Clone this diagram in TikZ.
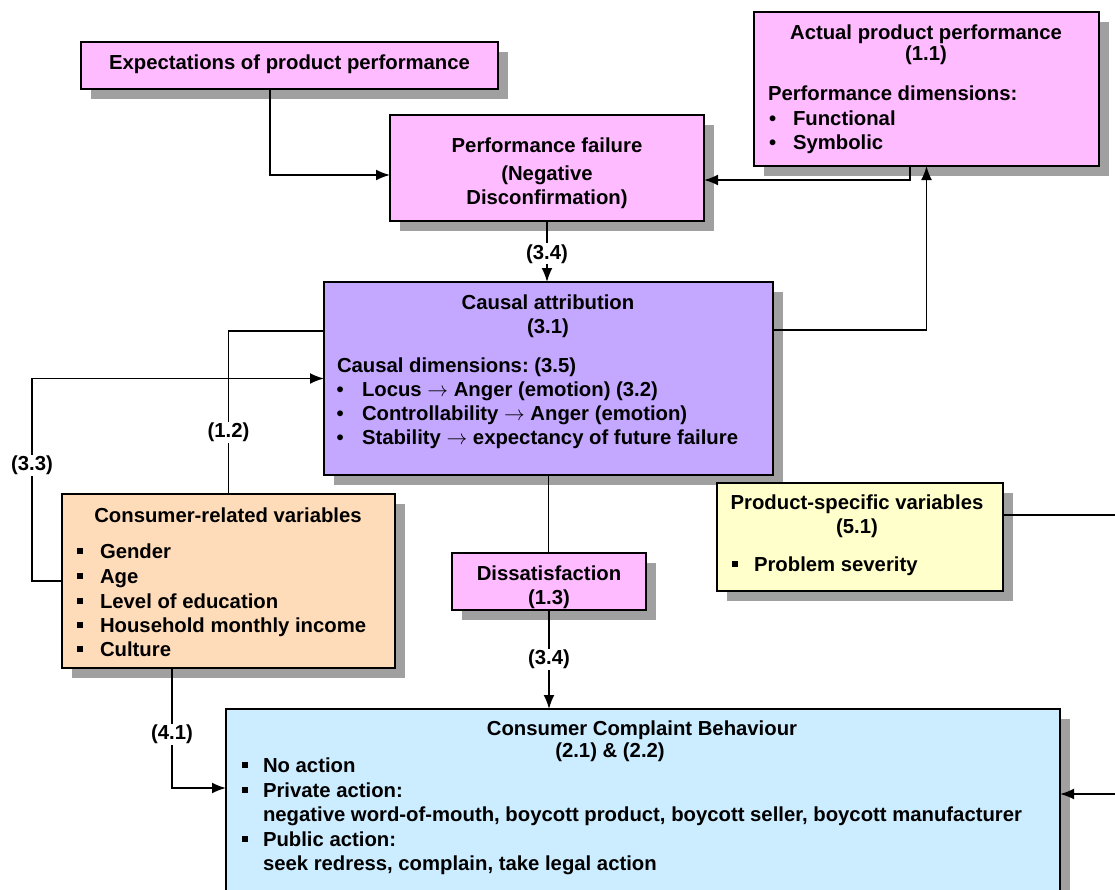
\documentclass[tikz,border=0pt]{standalone}
\usepackage{fontspec}
\setmainfont{Liberation Sans}
\usetikzlibrary{arrows.meta,shadows}

\definecolor{pinkbox}{RGB}{255,187,255}
\definecolor{violetbox}{RGB}{196,168,255}
\definecolor{peachbox}{RGB}{255,220,185}
\definecolor{yellowbox}{RGB}{255,255,204}
\definecolor{bluebox}{RGB}{204,236,255}
\definecolor{shadowgray}{RGB}{160,160,160}

% small square list bullet
\newcommand\sqb{\rule[4.5pt]{6pt}{6pt}}

\begin{document}
\frenchspacing
\begin{tikzpicture}[x=1pt,y=-1pt,
  box/.style={draw=black,line width=1.8pt,inner sep=0pt,outer sep=0pt,
    drop shadow={shadow xshift=10pt,shadow yshift=-10pt,fill=shadowgray,opacity=1}},
  txt/.style={inner sep=0pt,outer sep=0pt,font=\bfseries\fontsize{20.3}{24.5}\selectfont},
  ctext/.style={txt,anchor=base},
  ltext/.style={txt,anchor=base west},
  link/.style={line width=1.8pt},
  arr/.style={link,-{Latex[length=14pt,width=11pt]}},
  lbl/.style={txt,fill=white,inner sep=1pt}]

\fill[white] (0,0) rectangle (1115,889);
\useasboundingbox (0,0) rectangle (1115,889);

% boxes
\node[box,fill=pinkbox,minimum width=417pt,minimum height=47pt] (exp) at (289.5,65.5) {};
\node[box,fill=pinkbox,minimum width=314pt,minimum height=106pt] (perf) at (547,168) {};
\node[box,fill=pinkbox,minimum width=345pt,minimum height=154pt] (act) at (926.5,89) {};
\node[box,fill=violetbox,minimum width=449pt,minimum height=193pt] (caus) at (548.5,378.5) {};
\node[box,fill=peachbox,minimum width=333pt,minimum height=174pt] (cons) at (228.5,581) {};
\node[box,fill=yellowbox,minimum width=286pt,minimum height=108pt] (prod) at (860,537) {};
\node[box,fill=pinkbox,minimum width=194pt,minimum height=57pt] (diss) at (549,581.5) {};
\node[box,fill=bluebox,minimum width=834pt,minimum height=196pt] (ccb) at (643,807) {};

% connectors
\draw[arr] ([xshift=-19.5pt]exp.south) |- ([yshift=-7pt]perf.west);
\draw[arr] ([xshift=-16.5pt]act.south) |- ([yshift=-12pt]perf.east);
\draw[arr] (perf.south) -- node[lbl,pos=0.54] (l34a) {(3.4)} (perf.south |- caus.north);
\draw[arr] ([yshift=48.5pt]caus.east) -| (act.south);
\draw[link] (cons.north) |- node[lbl,pos=0.19] (l12) {(1.2)} ([yshift=47.5pt]caus.west);
\draw[arr] (cons.west) -- ++(-30,0) |- node[lbl,pos=0.286] (l33) {(3.3)} (caus.west);
\draw[link] (caus.south) -- (caus.south |- diss.north);
\draw[arr] (diss.south) -- node[lbl,pos=0.5] (l34b) {(3.4)} (diss.south |- ccb.north);
\draw[arr] ([xshift=-56.5pt]cons.south) |- node[lbl,pos=0.277] (l41) {(4.1)} ([yshift=19pt]ccb.west);
\draw[arr] ([yshift=22pt]prod.east) -- ++(130,0) |- ([yshift=13pt]ccb.east);

% expectations
\node[ctext] (t-exp) at (289.5,69) {Expectations of product performance};

% performance failure
\node[ctext] (t-perf1) at (547,152) {Performance failure};
\node[ctext] (t-perf2) at (547,180) {(Negative};
\node[ctext] (t-perf3) at (547,204) {Disconfirmation)};

% actual product performance
\node[ctext] (t-act1) at (926,39.5) {Actual product performance};
\node[ctext] (t-act2) at (926,60) {(1.1)};
\node[ltext] (t-act3) at (768,100) {Performance dimensions:};
\node[ltext] (t-act4) at (769,125) {\makebox[24pt][l]{•}Functional};
\node[ltext] (t-act5) at (769,149) {\makebox[24pt][l]{•}Symbolic};

% causal attribution
\node[ctext] (t-caus1) at (548,309) {Causal attribution};
\node[ctext] (t-caus2) at (548,333) {(3.1)};
\node[ltext] (t-caus3) at (337,372) {Causal dimensions: (3.5)};
\node[ltext] (t-caus4) at (336.5,396) {\makebox[25.5pt][l]{•}Locus $\rightarrow$ Anger (emotion) (3.2)};
\node[ltext] (t-caus5) at (336.5,420) {\makebox[25.5pt][l]{•}Controllability $\rightarrow$ Anger (emotion)};
\node[ltext] (t-caus6) at (336.5,444) {\makebox[25.5pt][l]{•}Stability $\rightarrow$ expectancy of future failure};

% consumer-related variables
\node[ctext] (t-cons1) at (228,522) {Consumer-related variables};
\node[ltext] (t-cons2) at (77,558) {\makebox[23pt][l]{\sqb}Gender};
\node[ltext] (t-cons3) at (77,583) {\makebox[23pt][l]{\sqb}Age};
\node[ltext] (t-cons4) at (77,608) {\makebox[23pt][l]{\sqb}Level of education};
\node[ltext] (t-cons5) at (77,632) {\makebox[23pt][l]{\sqb}Household monthly income};
\node[ltext] (t-cons6) at (77,656) {\makebox[23pt][l]{\sqb}Culture};

% product-specific variables
\node[ctext] (t-prod1) at (857,509) {Product-specific variables};
\node[ctext] (t-prod2) at (857,533) {(5.1)};
\node[ltext] (t-prod3) at (732,571) {\makebox[22pt][l]{\sqb}Problem severity};

% dissatisfaction
\node[ctext] (t-diss1) at (549,580) {Dissatisfaction};
\node[ctext] (t-diss2) at (549,604) {(1.3)};

% consumer complaint behaviour
\node[ctext] (t-ccb1) at (642,735.5) {Consumer Complaint Behaviour};
\node[ctext] (t-ccb2) at (610,757) {(2.1) \& (2.2)};
\node[ltext] (t-ccb3) at (242,772.5) {\makebox[21pt][l]{\sqb}No action};
\node[ltext] (t-ccb4) at (242,797.5) {\makebox[21pt][l]{\sqb}Private action:};
\node[ltext] (t-ccb5) at (263,821) {negative word-of-mouth, boycott product, boycott seller, boycott manufacturer};
\node[ltext] (t-ccb6) at (242,846) {\makebox[21pt][l]{\sqb}Public action:};
\node[ltext] (t-ccb7) at (263,870) {seek redress, complain, take legal action};

\end{tikzpicture}
\end{document}
